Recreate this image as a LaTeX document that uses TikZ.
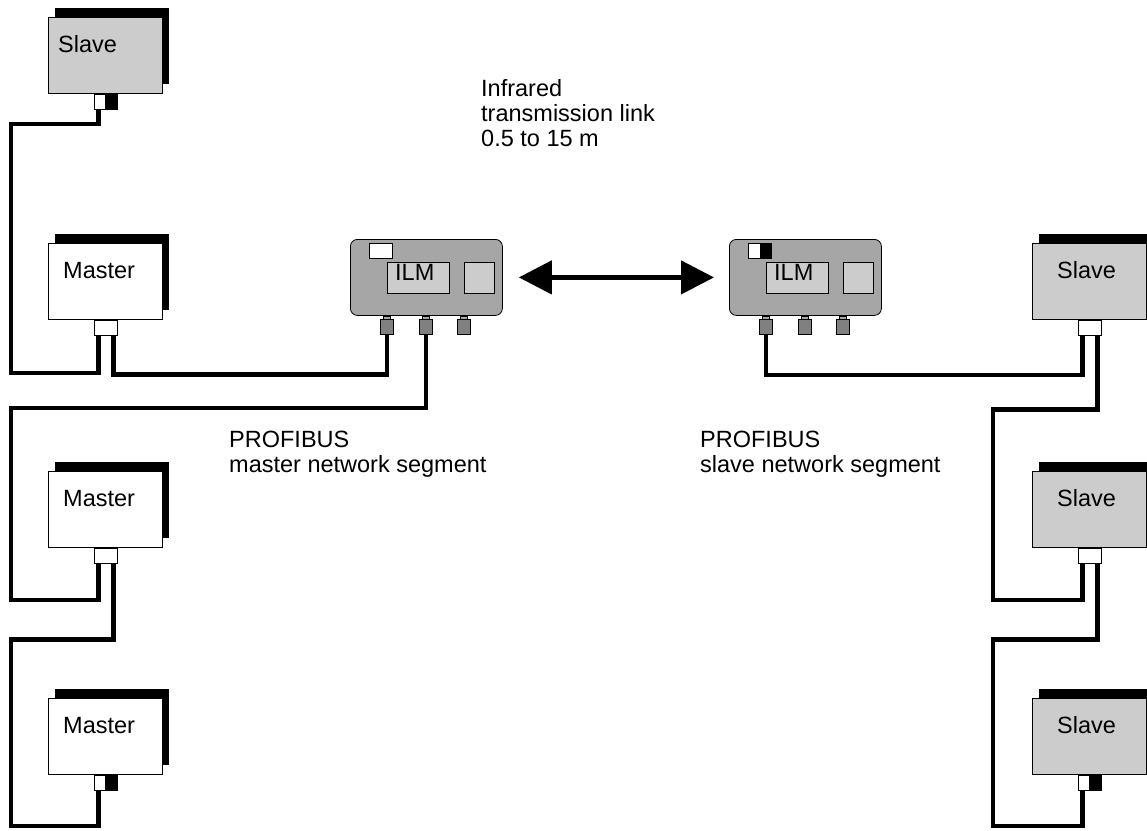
\documentclass[tikz,border=0pt]{standalone}
\usepackage{fontspec}
\setmainfont{Liberation Sans}
\usepackage{xcolor}
\usetikzlibrary{calc, shadows, arrows.meta}

\definecolor{devgray}{RGB}{204,204,204}
\definecolor{ilmgray}{RGB}{166,166,166}
\definecolor{jackgray}{RGB}{128,128,128}

\tikzset{
  dev/.style={draw, line width=0.8pt, anchor=north west, inner sep=0pt,
    minimum width=114pt, minimum height=76pt,
    drop shadow={shadow xshift=7pt, shadow yshift=9pt, fill=black, opacity=1}},
  master/.style={dev, fill=white},
  slave/.style={dev, fill=devgray},
  plug/.style={draw, line width=0.6pt, fill=white, anchor=north, inner sep=0pt,
    minimum width=23pt, minimum height=15pt},
  endplug/.style={plug, path picture={\fill[black] (path picture bounding box.north)
    rectangle (path picture bounding box.south east);}},
  txt/.style={anchor=base west, inner sep=0pt, font=\fontsize{23.5}{25}\selectfont},
  cable/.style={line width=4.5pt},
  ilm/.style={draw, line width=0.8pt, fill=ilmgray, rounded corners=7pt, anchor=north west,
    inner sep=0pt, minimum width=152pt, minimum height=76pt},
  win/.style={draw, line width=0.6pt, fill=devgray, anchor=north west, inner sep=0pt,
    minimum height=31pt},
  neck/.style={draw, line width=0.5pt, fill=ilmgray, anchor=north, inner sep=0pt,
    minimum width=7pt, minimum height=3pt},
  jack/.style={draw, line width=0.6pt, fill=jackgray, anchor=north, inner sep=0pt,
    minimum width=13pt, minimum height=15pt},
  irlink/.style={line width=4.5pt, {Triangle[length=33pt,width=33pt]}-{Triangle[length=33pt,width=33pt]},
    shorten <=16pt, shorten >=15pt}
}

\begin{document}
\begin{tikzpicture}[x=1pt, y=-1pt]
\useasboundingbox (0,0) rectangle (1147,830);

% master side
\node[slave] (slv0) at (48,17) {};
\node[endplug] (slv0p) at (slv0.south) {};
\node[txt] (slv0t) at ($(slv0.north west)+(10,35)$) {Slave};
\coordinate (slv0a) at ($(slv0p.south)+(-7,0)$);
\foreach \i/\y/\p in {1/243/plug, 2/471/plug, 3/698/endplug}{
    \node[master] (mst\i) at (48,\y) {};
    \node[\p] (mst\i p) at (mst\i.south) {};
    \node[txt] (mst\i t) at ($(mst\i.north west)+(15,35)$) {Master};
    \coordinate (mst\i a) at ($(mst\i p.south)+(-7,0)$);
    \coordinate (mst\i b) at ($(mst\i p.south)+(8,0)$);
}

% slave side
\foreach \i/\y/\p in {1/243/plug, 2/471/plug, 3/698/endplug}{
    \node[slave] (slv\i) at (1032,\y) {};
    \node[\p] (slv\i p) at (slv\i.south) {};
    \node[txt] (slv\i t) at ($(slv\i.north west)+(25,35)$) {Slave};
    \coordinate (slv\i a) at ($(slv\i p.south)+(-7,0)$);
    \coordinate (slv\i b) at ($(slv\i p.south)+(8,0)$);
}

% the two ILMs
\foreach \n/\x in {L/350, R/729}{
    \node[ilm] (ilm\n) at (\x,239) {};
    \node[win, minimum width=62pt] (ilm\n w) at ($(ilm\n.north west)+(37,23)$) {};
    \node[txt] (ilm\n t) at ($(ilm\n w.north west)+(8,18)$) {ILM};
    \node[win, minimum width=30pt] (ilm\n s) at ($(ilm\n.north west)+(114,23)$) {};
    \foreach \j/\dx in {1/37, 2/76, 3/114}{
        \node[neck] (ilm\n n\j) at ($(ilm\n.south west)+(\dx,0)$) {};
        \node[jack] (ilm\n\j) at (ilm\n n\j.south) {};
    }
}
\node[plug, anchor=north west] (ilmLled) at ($(ilmL.north west)+(19,4)$) {};
\node[endplug, anchor=north west] (ilmRled) at ($(ilmR.north west)+(19,4)$) {};

% infrared link
\draw[irlink] (ilmL.east) -- (ilmR.west);

% bus cables
\draw[cable] (slv0a) |- (11,124) -- (11,373) -| (mst1a);
\draw[cable] (mst1b) -- ++(0,39) -| (ilmL1.south);
\draw[cable] (ilmL2.south) -- ++(0,73) -| (11,600) -| (mst2a);
\draw[cable] (mst2b) -- ++(0,76) -| (11,826) -| (mst3a);
\draw[cable] (ilmR1.south) -- ++(0,40) -| (slv1a);
\draw[cable] (slv1b) -- ++(0,74) -| (993,600) -| (slv2a);
\draw[cable] (slv2b) -- ++(0,76) -| (993,826) -| (slv3a);

% labels (base = last line)
\node[txt, align=left] (irtxt) at (481,146) {Infrared\\transmission link\\0.5 to 15 m};
\node[txt, align=left] (msttxt) at (229,472) {PROFIBUS\\master network segment};
\node[txt, align=left] (slvtxt) at (700,472) {PROFIBUS\\slave network segment};
\end{tikzpicture}
\end{document}
